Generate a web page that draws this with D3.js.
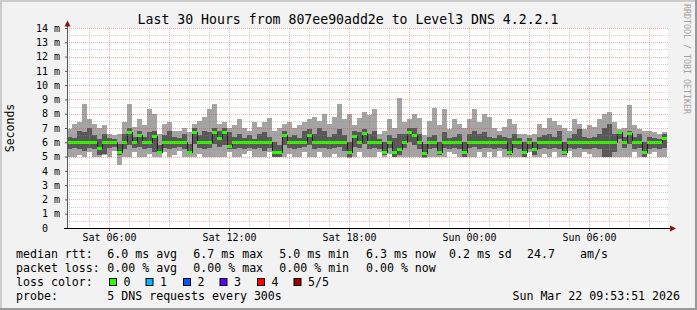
<!DOCTYPE html>
<html>
<head>
<meta charset="utf-8">
<script src="https://cdn.jsdelivr.net/npm/d3@7"></script>
<style>
body { margin: 0; background: #f2f2f2; }
svg { display: block; font-family: "DejaVu Sans Mono", monospace; }
text { white-space: pre; }
</style>
</head>
<body>
<script>
// 5 sorted DNS pings per 15 min sample, in ms (ping3 = median)
const ping1 = [
  5.0,5.0,5.1,5.0,5.3,5.0,5.0,5.1,5.0,5.4, 4.4,5.0,5.0,5.3,5.0,5.0,5.2,5.0,5.0,5.3,
  5.0,5.1,5.4,5.0,5.0,5.0,5.2,5.0,5.0,5.0, 5.0,5.0,5.3,5.0,5.0,5.2,5.4,5.0,5.0,5.0,
  5.3,5.0,5.0,5.0,5.2,5.0,5.0,5.3,5.0,5.0, 5.3,5.0,5.0,5.2,5.0,5.0,4.9,5.0,5.3,5.0,
  5.0,5.0,5.3,5.0,5.2,5.0,5.0,5.0,5.0,5.0, 5.0,4.9,5.0,5.0,5.0,5.0,5.3,5.2,5.0,5.0,
  5.0,5.0,5.3,5.0,5.3,5.0,5.4,5.0,5.0,5.0, 5.0,5.0,5.3,5.0,5.0,5.2,5.0,5.3,5.0,5.0,
  5.4,5.0,5.0,5.3,5.2,5.0,5.0,5.0,5.0,5.0, 5.0,5.0,5.0,5.3,5.0,5.0,5.2,5.3,5.0,5.0
]
const ping2 = [
  5.5,5.6,5.5,5.4,5.6,5.5,5.1,5.2,5.6,5.7, 5.1,5.5,5.8,5.6,5.7,5.5,5.6,5.3,5.2,5.6,
  5.5,5.6,5.7,5.5,5.2,5.9,5.6,5.5,5.6,5.9, 5.7,5.8,5.5,5.5,5.6,5.5,5.6,5.5,5.6,5.4,
  5.6,5.0,5.0,5.8,5.6,5.5,5.6,5.7,5.8,5.5, 5.6,5.6,5.5,5.6,5.7,5.4,5.0,5.7,5.6,5.9,
  5.5,5.6,5.5,5.1,5.6,5.0,5.1,5.6,6.0,5.8, 5.5,5.0,5.5,5.6,5.1,5.6,5.5,5.6,5.5,5.0,
  5.6,5.7,5.5,5.6,5.6,5.5,5.6,5.5,5.1,5.6, 5.5,5.0,5.5,5.1,5.5,5.6,5.5,5.6,5.5,5.1,
  5.6,5.5,5.6,5.5,5.5,5.6,5.5,5.0,5.0,5.3, 6.2,5.6,5.9,5.5,5.6,5.0,5.5,5.6,5.5,5.6
]
const ping3 = [
  6.0,6.0,6.0,6.0,6.0,6.0,5.6,6.0,6.0,6.0, 5.3,6.0,6.7,6.0,6.5,6.0,6.0,6.4,5.3,6.0,
  6.0,6.0,6.0,6.0,5.3,6.7,6.0,6.0,6.0,6.7, 6.3,6.7,5.7,6.0,6.0,6.0,6.0,6.0,6.0,6.0,
  6.0,5.3,5.3,6.5,6.0,6.0,6.0,6.0,6.5,6.0, 6.0,6.0,6.0,6.0,6.0,6.0,5.3,6.4,6.0,6.6,
  6.0,6.0,6.0,5.3,6.0,5.3,5.5,6.0,6.7,6.5, 6.0,5.2,6.0,6.0,5.3,6.0,6.0,6.0,6.0,5.3,
  6.0,6.0,6.0,6.0,6.0,6.0,6.0,6.0,5.3,6.0, 6.0,5.3,6.0,5.5,6.0,6.0,6.0,6.0,6.0,5.3,
  6.0,6.0,6.0,6.0,6.0,6.0,6.0,6.0,6.0,6.0, 6.7,6.0,6.6,6.0,6.0,5.3,6.0,6.0,6.0,6.3
]
const ping4 = [
  6.4,6.3,6.8,6.7,7.0,6.5,6.2,6.6,6.3,6.2, 5.9,6.6,7.0,6.4,6.8,6.4,6.7,6.8,5.8,6.5,
  6.8,6.4,6.3,6.6,5.9,7.0,6.5,6.8,6.7,7.0, 6.8,7.0,6.7,6.4,6.6,6.3,6.5,6.2,6.6,6.7,
  6.4,6.0,5.8,6.8,6.4,6.5,6.3,6.8,6.9,6.6, 7.0,6.8,6.4,6.6,6.9,6.5,6.0,6.8,6.7,6.9,
  6.6,6.8,6.2,6.0,6.5,6.3,6.6,6.6,7.0,7.0, 6.6,5.9,6.4,6.5,6.0,6.7,6.3,6.4,6.6,6.0,
  6.6,6.8,6.6,6.7,6.4,6.3,6.5,6.4,6.3,6.6, 6.3,6.0,6.3,6.0,6.4,6.5,6.6,6.4,6.8,6.0,
  6.3,6.6,6.9,6.4,6.3,6.4,6.6,7.0,7.3,6.6, 6.8,6.4,6.8,6.4,6.6,6.0,6.4,6.3,6.2,6.6
]
const ping5 = [
  6.9,7.3,7.4,8.7,7.6,7.3,7.0,7.2,6.6,6.5, 6.6,7.4,8.7,7.1,7.6,7.2,8.3,8.0,6.6,7.3,
  7.4,6.8,6.8,7.0,6.7,7.3,7.5,7.8,8.3,8.7, 7.3,7.4,7.0,7.2,7.6,7.0,6.8,7.4,7.1,7.4,
  7.7,6.8,7.0,7.3,7.4,7.0,7.2,7.4,7.6,7.8, 7.5,8.0,7.3,7.8,8.7,7.6,8.0,7.2,7.7,8.1,
  7.9,8.3,6.6,6.8,7.6,7.0,9.1,7.4,7.6,8.0, 7.7,6.5,7.5,8.4,7.2,8.3,6.9,7.6,7.3,7.0,
  7.6,8.3,7.4,8.0,7.8,7.0,6.8,7.1,7.6,7.3, 6.6,6.6,6.5,6.6,7.3,7.0,7.7,7.5,7.2,7.0,
  6.8,7.6,7.3,6.9,7.2,7.1,7.6,8.0,8.1,7.4, 6.9,7.0,8.6,7.2,6.9,6.8,6.8,6.7,6.6,6.7
]

const yTickValues = [0,1,2,3,4,5,6,7,8,9,10,11,12,13,14]
const lossColors = ["#26ff00","#00b8ff","#0059ff","#5e00ff","#ff0000","#a10000"]
const lossLabels = ["0","1","2","3","4","5/5"]
const rttStats = ["6.0 ms avg","6.7 ms max","5.0 ms min","6.3 ms now"]
const lossStats = ["0.00 % avg","0.00 % max","0.00 % min","0.00 % now"]

const width = 697
const height = 310
const plotL = 67, plotR = 667, plotT = 28, plotB = 228

const start = new Date(2026, 2, 21, 3, 53, 51)
const end = new Date(2026, 2, 22, 9, 53, 51)
const step = 15 * 60 * 1000
const times = ping3.map((d, i) => new Date(+start + i * step))

const svg = d3.select("body").append("svg")
  .attr("width", width)
  .attr("height", height)

// frame
svg.append("rect").attr("width", width).attr("height", height).attr("fill", "#f2f2f2")
svg.append("rect").attr("x", 0).attr("y", 0).attr("width", width).attr("height", 2).attr("fill", "#cbcbcb")
svg.append("rect").attr("x", 0).attr("y", 0).attr("width", 2).attr("height", height).attr("fill", "#cbcbcb")
svg.append("rect").attr("x", 0).attr("y", height - 2).attr("width", width).attr("height", 2).attr("fill", "#999")
svg.append("rect").attr("x", width - 2).attr("y", 0).attr("width", 2).attr("height", height).attr("fill", "#999")

const x = d3.scaleTime().domain([start, end]).range([plotL, plotR])
const y = d3.scaleLinear().domain([0, 14]).range([plotB, plotT])

svg.append("rect").attr("x", plotL).attr("y", plotT)
  .attr("width", plotR - plotL + 1).attr("height", plotB - plotT).attr("fill", "#fff")

// smoke
const smoke = svg.append("g").attr("shape-rendering", "crispEdges")
const bandW = i => x(new Date(+times[i] + step)) - x(times[i])

smoke.selectAll(".outer").data(ping5).enter().append("rect")
  .attr("x", (d, i) => x(times[i]))
  .attr("width", (d, i) => bandW(i))
  .attr("y", d => y(d))
  .attr("height", (d, i) => y(ping1[i]) - y(d))
  .attr("fill", "#a4a4a4")

smoke.selectAll(".inner").data(ping4).enter().append("rect")
  .attr("x", (d, i) => x(times[i]))
  .attr("width", (d, i) => bandW(i))
  .attr("y", d => y(d))
  .attr("height", (d, i) => y(ping2[i]) - y(d))
  .attr("fill", "#585858")

// median
const medPts = ping3.map((d, i) => [times[i], d]).concat([[end, ping3[ping3.length - 1]]])
svg.append("path")
  .attr("d", d3.line().x(d => x(d[0])).y(d => y(d[1])).curve(d3.curveStepAfter)(medPts))
  .attr("fill", "none").attr("stroke", "#202020").attr("stroke-width", 1)
  .attr("shape-rendering", "crispEdges")

svg.append("g").attr("shape-rendering", "crispEdges")
  .selectAll("rect").data(ping3).enter().append("rect")
  .attr("x", (d, i) => x(times[i]))
  .attr("width", (d, i) => bandW(i))
  .attr("y", d => y(d) - 1.5)
  .attr("height", 3)
  .attr("fill", lossColors[0])

// grid
const grid = svg.append("g").attr("shape-rendering", "crispEdges").attr("stroke-dasharray", "1,1")
const hours = x.ticks(d3.timeHour.every(1))
grid.selectAll(".vg").data(hours).enter().append("line")
  .attr("x1", d => Math.round(x(d)) + 0.5).attr("x2", d => Math.round(x(d)) + 0.5)
  .attr("y1", plotT).attr("y2", plotB)
  .attr("stroke", d => d.getHours() % 3 === 0 ? "rgba(255,40,40,0.4)" : "rgba(140,140,140,0.4)")
const halves = d3.range(0.5, 14.01, 0.5)
grid.selectAll(".hg").data(halves).enter().append("line")
  .attr("x1", plotL).attr("x2", plotR + 1)
  .attr("y1", d => Math.round(y(d)) + 0.5).attr("y2", d => Math.round(y(d)) + 0.5)
  .attr("stroke", d => d % 1 === 0 ? "rgba(255,40,40,0.4)" : "rgba(140,140,140,0.4)")

// axes
const yAxis = d3.axisLeft(y).tickValues(yTickValues)
  .tickSize(2).tickPadding(5)
  .tickFormat(d => d === 0 ? "0" : d + " m")
const yg = svg.append("g").attr("transform", "translate(" + plotL + ",0)").call(yAxis)
yg.select(".domain").remove()
yg.selectAll("text").attr("font-size", 10).attr("font-family", "DejaVu Sans Mono").attr("fill", "#000")
  .attr("dx", d => d === 0 ? -12 : 0)
yg.selectAll(".tick line").attr("stroke", "#555")

const xAxis = d3.axisBottom(x).ticks(d3.timeHour.every(6))
  .tickSize(3).tickPadding(3)
  .tickFormat(d3.timeFormat("%a %H:%M"))
const xg = svg.append("g").attr("transform", "translate(0," + plotB + ")").call(xAxis)
xg.select(".domain").remove()
xg.selectAll("text").attr("font-size", 10).attr("font-family", "DejaVu Sans Mono").attr("fill", "#000")
xg.selectAll(".tick line").attr("stroke", "#555")

svg.append("line").attr("x1", plotL + 0.5).attr("x2", plotL + 0.5).attr("y1", plotB).attr("y2", 24)
  .attr("stroke", "#555").attr("shape-rendering", "crispEdges")
svg.append("line").attr("x1", 64).attr("x2", 671).attr("y1", plotB + 0.5).attr("y2", plotB + 0.5)
  .attr("stroke", "#000").attr("shape-rendering", "crispEdges")
svg.append("path").attr("d", "M64.5,26.5 L67.5,20.5 L70.5,26.5 Z").attr("fill", "#8b1010")
svg.append("path").attr("d", "M670,225.5 L676,228.5 L670,231.5 Z").attr("fill", "#8b1010")

// texts
svg.append("text").attr("x", 348).attr("y", 23.5).attr("text-anchor", "middle")
  .attr("font-size", 13.2).text("Last 30 Hours from 807ee90add2e to Level3 DNS 4.2.2.1")

svg.append("text").attr("transform", "translate(14,128) rotate(-90)").attr("text-anchor", "middle")
  .attr("font-size", 11.5).text("Seconds")

svg.append("text").attr("transform", "translate(684,4) rotate(90)")
  .attr("font-size", 8.3).attr("fill", "#a0a0a0").text("RRDTOOL / TOBI OETIKER")

const lg = svg.append("g").attr("font-size", 11.6)
const fieldX = [107.3, 193.3, 279.3, 366]
lg.append("text").attr("x", 16).attr("y", 258).text("median rtt:")
lg.selectAll(".rtt").data(rttStats).enter().append("text")
  .attr("x", (d, i) => fieldX[i]).attr("y", 258).text(d => d)
lg.append("text").attr("x", 449).attr("y", 258).text("0.2 ms sd")
lg.append("text").attr("x", 527).attr("y", 258).text("24.7")
lg.append("text").attr("x", 580).attr("y", 258).text("am/s")

lg.append("text").attr("x", 16).attr("y", 272).text("packet loss:")
lg.selectAll(".loss").data(lossStats).enter().append("text")
  .attr("x", (d, i) => fieldX[i]).attr("y", 272).text(d => d)

lg.append("text").attr("x", 16).attr("y", 286).text("loss color:")
const boxX = [109, 145.5, 183, 219.5, 257, 293.5]
lg.selectAll(".box").data(lossColors).enter().append("rect")
  .attr("x", (d, i) => boxX[i] + 0.5).attr("y", 278.5).attr("width", 7).attr("height", 7)
  .attr("fill", d => d).attr("stroke", "#000").attr("stroke-width", 1)
lg.selectAll(".boxl").data(lossLabels).enter().append("text")
  .attr("x", (d, i) => boxX[i] + 14.5).attr("y", 286).text(d => d)

lg.append("text").attr("x", 16).attr("y", 300).text("probe:")
lg.append("text").attr("x", 107.3).attr("y", 300).text("5 DNS requests every 300s")
lg.append("text").attr("x", 680).attr("y", 300).attr("text-anchor", "end").text("Sun Mar 22 09:53:51 2026")
</script>
</body>
</html>
